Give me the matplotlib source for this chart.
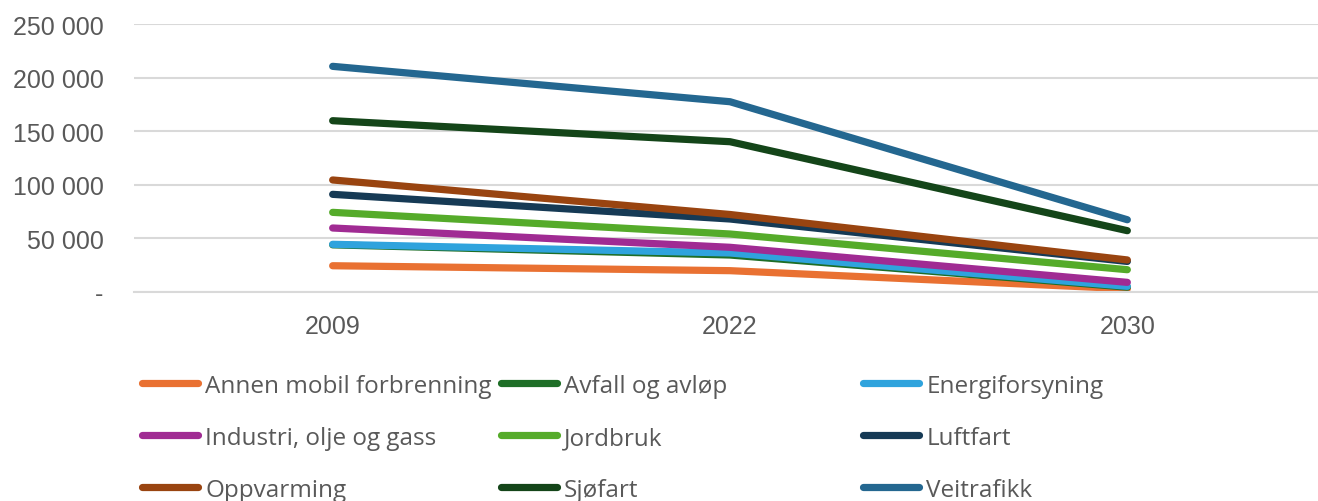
import matplotlib
matplotlib.use("Agg")
import matplotlib.pyplot as plt
from matplotlib.ticker import FuncFormatter
from matplotlib.lines import Line2D

years = ["2009", "2022", "2030"]
series_names = ["Annen mobil forbrenning", "Avfall og avløp", "Energiforsyning",
                "Industri, olje og gass", "Jordbruk", "Luftfart",
                "Oppvarming", "Sjøfart", "Veitrafikk"]
annen = [24500, 19900, 3000]
avfall = [44000, 34500, 4500]
energi = [44500, 36400, 5300]
industri = [59700, 41700, 9000]
jordbruk = [74300, 54100, 20800]
luftfart = [91100, 68100, 28500]
oppvarming = [104500, 72300, 29900]
sjofart = [159800, 140200, 57200]
veitrafikk = [210500, 177500, 67400]
values = [annen, avfall, energi, industri, jordbruk, luftfart, oppvarming, sjofart, veitrafikk]
colors = ["#E97132", "#1E6E27", "#2FA3DD", "#A02B93", "#55AB2A", "#163A55",
          "#994410", "#144519", "#246790"]

fig = plt.figure(figsize=(13.18, 5.02), dpi=100)
ax = fig.add_axes([134/1318, 1 - 293/502, (1326 - 134)/1318, (293 - 25)/502])

x = list(range(len(years)))
for name, vals, c in zip(series_names, values, colors):
    ax.plot(x, vals, color=c, lw=5.2, solid_capstyle="round", solid_joinstyle="round", label=name)

ax.set_xlim(-0.5, 2.5)
ax.set_ylim(0, 250000)
ax.set_yticks(range(0, 250001, 50000))
ax.yaxis.set_major_formatter(FuncFormatter(lambda v, p: "-" if v == 0 else f"{int(v):,}".replace(",", " ")))
ax.set_xticks(x)
ax.set_xticklabels(years)
ax.grid(axis="y", color="#D9D9D9", lw=1.5)
ax.set_axisbelow(True)
for s in ["top", "right", "left"]:
    ax.spines[s].set_visible(False)
ax.spines["bottom"].set_color("#D9D9D9")
ax.spines["bottom"].set_linewidth(1.5)
ax.tick_params(length=0, colors="#595959", labelsize=18)
ax.tick_params(axis="y", pad=22)
ax.tick_params(axis="x", pad=16)
for lab in ax.get_xticklabels() + ax.get_yticklabels():
    lab.set_family("Liberation Sans")

# legend: 3 equal-width columns, row-major order
col_x = [142, 501, 863]
ncols = 3
for ci in range(ncols):
    idx = [i for i in range(len(series_names)) if i % ncols == ci]
    handles = [Line2D([0], [0], color=colors[i], lw=5.2, solid_capstyle="round") for i in idx]
    labels = [series_names[i] for i in idx]
    leg = fig.legend(handles, labels, loc="upper left",
                     bbox_to_anchor=(col_x[ci]/1318, 1 - 375/502),
                     ncol=1, frameon=False, handlelength=2.3, handletextpad=0.3,
                     labelspacing=1.15, borderaxespad=0, borderpad=0,
                     prop={"family": "Open Sans", "size": 17.5})
    for t in leg.get_texts():
        t.set_color("#595959")

fig.savefig("out.png", dpi=100)
